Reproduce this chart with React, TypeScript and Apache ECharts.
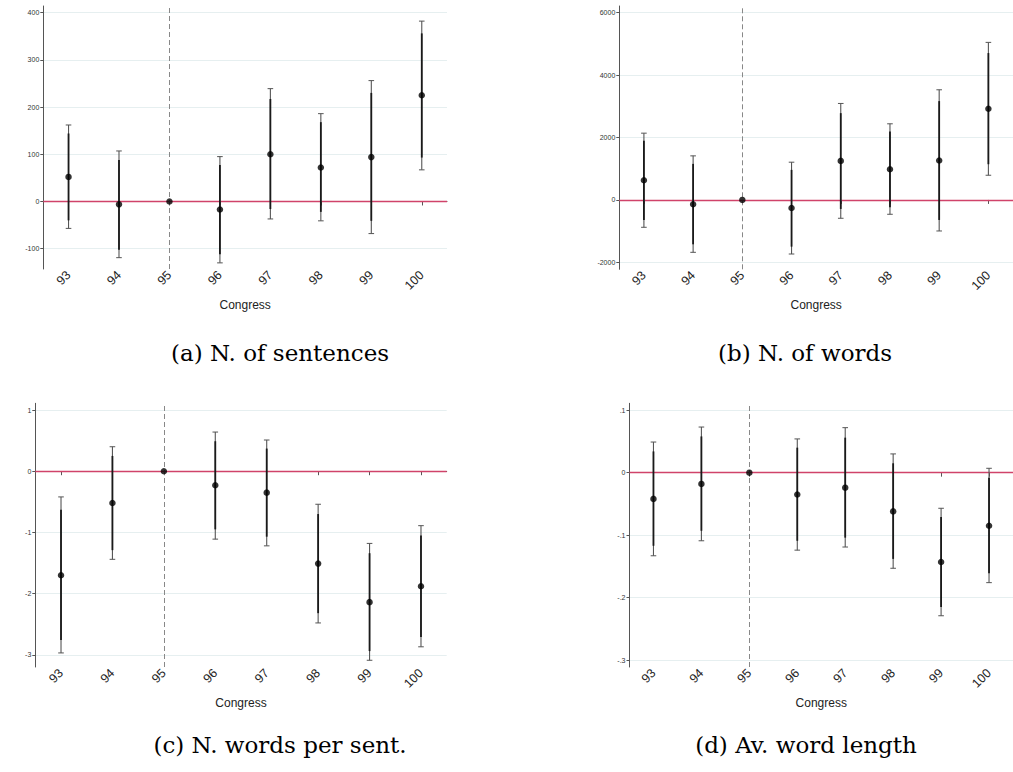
import React, { useEffect, useRef } from "react";
import * as echarts from "echarts";

const categories = ["93", "94", "95", "96", "97", "98", "99", "100"];

// (a) N. of sentences
const sentEst = [52, -6, 0, -17, 100, 72, 94, 225];
const sentLo95 = [-57, -119, 0, -130, -37, -41, -68, 67];
const sentHi95 = [162, 107, 0, 95, 239, 186, 256, 382];
const sentLo90 = [-40, -102, 0, -112, -16, -22, -41, 93];
const sentHi90 = [144, 88, 0, 77, 217, 168, 230, 356];
const sentTicks = [-100, 0, 100, 200, 300, 400];

// (b) N. of words
const wordsEst = [631, -139, 0, -257, 1251, 984, 1262, 2920];
const wordsLo95 = [-877, -1679, 0, -1733, -588, -460, -995, 791];
const wordsHi95 = [2139, 1412, 0, 1209, 3091, 2439, 3529, 5048];
const wordsLo90 = [-642, -1422, 0, -1497, -289, -235, -642, 1144];
const wordsHi90 = [1893, 1155, 0, 963, 2781, 2192, 3166, 4706];
const wordsTicks = [-2000, 0, 2000, 4000, 6000];

// (c) N. words per sent.
const wpsEst = [-1.7, -0.52, 0, -0.23, -0.35, -1.51, -2.14, -1.88];
const wpsLo95 = [-2.97, -1.44, 0, -1.11, -1.22, -2.48, -3.09, -2.87];
const wpsHi95 = [-0.42, 0.4, 0, 0.64, 0.51, -0.54, -1.18, -0.89];
const wpsLo90 = [-2.76, -1.29, 0, -0.95, -1.07, -2.32, -2.94, -2.71];
const wpsHi90 = [-0.63, 0.25, 0, 0.49, 0.37, -0.7, -1.34, -1.05];
const wpsTicks = [-3, -2, -1, 0, 1];

// (d) Av. word length
const lenEst = [-0.042, -0.018, 0, -0.035, -0.024, -0.062, -0.143, -0.085];
const lenLo95 = [-0.133, -0.109, 0, -0.124, -0.119, -0.153, -0.229, -0.176];
const lenHi95 = [0.049, 0.073, 0, 0.054, 0.072, 0.03, -0.057, 0.007];
const lenLo90 = [-0.117, -0.093, 0, -0.109, -0.104, -0.138, -0.215, -0.161];
const lenHi90 = [0.034, 0.058, 0, 0.04, 0.056, 0.015, -0.071, -0.008];
const lenTicks = [-0.3, -0.2, -0.1, 0, 0.1];

const captions = ["(a) N. of sentences", "(b) N. of words", "(c) N. words per sent.", "(d) Av. word length"];

const panels = [
  { est: sentEst, lo95: sentLo95, hi95: sentHi95, lo90: sentLo90, hi90: sentHi90, ticks: sentTicks, min: -143, max: 414,
    grid: { left: 43.3, top: 6, width: 403.7, height: 263 }, fmt: (v: number) => String(v) },
  { est: wordsEst, lo95: wordsLo95, hi95: wordsHi95, lo90: wordsLo90, hi90: wordsHi90, ticks: wordsTicks, min: -2223, max: 6214,
    grid: { left: 619.3, top: 6, width: 399.7, height: 263.3 }, fmt: (v: number) => String(v) },
  { est: wpsEst, lo95: wpsLo95, hi95: wpsHi95, lo90: wpsLo90, hi90: wpsHi90, ticks: wpsTicks, min: -3.2, max: 1.11,
    grid: { left: 35.3, top: 403.3, width: 411.4, height: 263.7 }, fmt: (v: number) => String(v) },
  { est: lenEst, lo95: lenLo95, hi95: lenHi95, lo90: lenLo90, hi90: lenHi90, ticks: lenTicks, min: -0.311, max: 0.111,
    grid: { left: 629.5, top: 403.3, width: 389.5, height: 263.7 },
    fmt: (v: number) => (Math.abs(v) < 1e-9 ? "0" : String(Math.round(v * 10) / 10).replace("0.", ".")) },
];

const captionPos = [
  { x: 280, y: 353 },
  { x: 805, y: 353 },
  { x: 280, y: 745 },
  { x: 806, y: 745 },
];

export default function App() {
  const ref = useRef<HTMLDivElement>(null);
  useEffect(() => {
    if (!ref.current) return;
    const chart = echarts.init(ref.current, undefined, { renderer: "svg" });
    const grids: any[] = [];
    const xAxes: any[] = [];
    const yAxes: any[] = [];
    const series: any[] = [];
    panels.forEach((p, k) => {
      grids.push({ ...p.grid, containLabel: false });
      xAxes.push({
        type: "category",
        gridIndex: k,
        data: categories,
        boundaryGap: true,
        name: "Congress",
        nameLocation: "middle",
        nameGap: 30,
        nameTextStyle: { fontFamily: "Liberation Sans", fontSize: 12, color: "#222" },
        axisLine: { show: true, lineStyle: { color: "#555", width: 1 } },
        axisTick: { show: true, alignWithLabel: true, length: 4, lineStyle: { color: "#555" } },
        axisLabel: { rotate: 45, fontFamily: "Liberation Sans", fontSize: 12.5, color: "#222", margin: 4 },
        splitLine: { show: false },
      });
      yAxes.push({
        type: "value",
        gridIndex: k,
        min: p.min,
        max: p.max,
        axisLine: { show: true, lineStyle: { color: "#555", width: 1 } },
        axisTick: { show: true, length: 3, customValues: p.ticks, lineStyle: { color: "#555" } },
        axisLabel: { customValues: p.ticks, fontFamily: "Liberation Sans", fontSize: 7, color: "#333", margin: 4, formatter: p.fmt },
        splitLine: { show: true, lineStyle: { color: "#e6eff0", width: 1 } },
      });
      series.push({
        type: "custom",
        xAxisIndex: k,
        yAxisIndex: k,
        z: 3,
        data: categories.map((c, i) => [i, p.lo95[i], p.hi95[i], p.lo90[i], p.hi90[i]]),
        renderItem: (params: any, api: any) => {
          const i = api.value(0);
          const lo95 = api.value(1);
          const hi95 = api.value(2);
          const lo90 = api.value(3);
          const hi90 = api.value(4);
          if (lo95 === hi95) return { type: "group", children: [] };
          const a = api.coord([i, hi95]);
          const b = api.coord([i, lo95]);
          const c = api.coord([i, hi90]);
          const d = api.coord([i, lo90]);
          const cap = 2.8;
          return {
            type: "group",
            children: [
              { type: "line", shape: { x1: a[0], y1: a[1], x2: b[0], y2: b[1] }, style: { stroke: "#555", lineWidth: 1.1 } },
              { type: "line", shape: { x1: a[0] - cap, y1: a[1], x2: a[0] + cap, y2: a[1] }, style: { stroke: "#555", lineWidth: 1 } },
              { type: "line", shape: { x1: b[0] - cap, y1: b[1], x2: b[0] + cap, y2: b[1] }, style: { stroke: "#555", lineWidth: 1 } },
              { type: "line", shape: { x1: c[0], y1: c[1], x2: d[0], y2: d[1] }, style: { stroke: "#1a1a1a", lineWidth: 1.8 } },
            ],
          };
        },
        markLine: {
          silent: true,
          symbol: "none",
          label: { show: false },
          z: 1,
          data: [
            { yAxis: 0, lineStyle: { color: "#d0436a", width: 1.3, type: "solid" } },
            { xAxis: "95", lineStyle: { color: "#888", width: 1, type: [5, 3] } },
          ],
        },
      });
      series.push({
        type: "scatter",
        xAxisIndex: k,
        yAxisIndex: k,
        z: 4,
        symbol: "circle",
        symbolSize: 6.5,
        itemStyle: { color: "#000" },
        data: p.est,
      });
    });
    chart.setOption({
      animation: false,
      backgroundColor: "#fff",
      grid: grids,
      xAxis: xAxes,
      yAxis: yAxes,
      series,
      graphic: captions.map((t, k) => ({
        type: "text",
        x: captionPos[k].x,
        y: captionPos[k].y,
        style: {
          text: t,
          fontFamily: "DejaVu Serif",
          fontSize: 23,
          fill: "#000",
          align: "center",
          verticalAlign: "middle",
        },
      })),
    });
    return () => chart.dispose();
  }, []);
  return <div ref={ref} style={{ position: "fixed", left: 0, top: 0, width: 1013, height: 772 }} />;
}
